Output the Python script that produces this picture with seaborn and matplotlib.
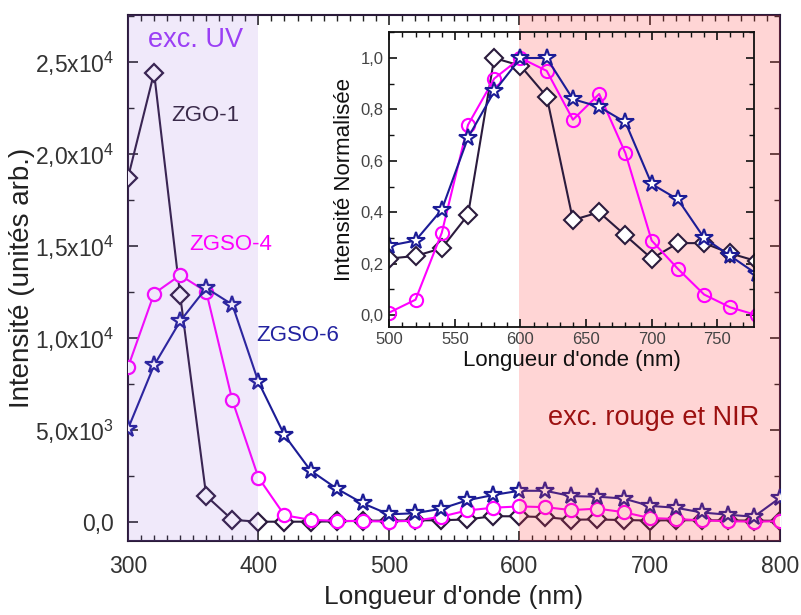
import numpy as np
import pandas as pd
import seaborn as sns
import matplotlib.pyplot as plt
from matplotlib.ticker import MultipleLocator, FixedLocator, FuncFormatter

# --- data ---
wl = list(range(300, 801, 20))
zgo1 = [18700, 24400, 12300, 1400, 100, 0, 0, 0, 20, 50, 65, 70, 80, 120, 300,
        290, 250, 110, 120, 90, 65, 80, 80, 70, 60, 50]
zgso4 = [8400, 12400, 13400, 12500, 6600, 2400, 350, 100, 50, 30, 10, 50, 270,
         610, 760, 830, 790, 630, 710, 520, 200, 150, 70, 30, 0, 30]
zgso6 = [5050, 8500, 10900, 12700, 11800, 7600, 4700, 2780, 1800, 1000, 400, 460,
         700, 1160, 1450, 1680, 1680, 1390, 1360, 1260, 860, 760, 500, 380, 270, 1300]

wl_ins = list(range(500, 781, 20))
zgo1_n = [0.22, 0.23, 0.26, 0.39, 1.0, 0.97, 0.85, 0.37, 0.40, 0.31, 0.22, 0.28, 0.28, 0.24, 0.21]
zgso4_n = [0.01, 0.06, 0.32, 0.74, 0.92, 1.0, 0.95, 0.76, 0.86, 0.63, 0.29, 0.18, 0.08, 0.03, 0.0]
zgso6_n = [0.27, 0.29, 0.41, 0.69, 0.87, 1.0, 1.0, 0.84, 0.81, 0.75, 0.51, 0.45, 0.30, 0.23, 0.16]

y_ticks = [0, 5000, 10000, 15000, 20000, 25000]
y_labels = ['0,0', r'5,0x10$^3$', r'1,0x10$^4$', r'1,5x10$^4$', r'2,0x10$^4$', r'2,5x10$^4$']

sns.set_style('ticks')
plt.rcParams['font.family'] = ['Liberation Sans', 'DejaVu Sans']
plt.rcParams['mathtext.fontset'] = 'custom'
plt.rcParams['mathtext.rm'] = 'Liberation Sans'

c_zgo = '#2b1b3d'
c_zgso4 = '#ff00ff'
c_zgso6 = '#1c1c96'

series = [
    ('ZGO-1', zgo1, zgo1_n, c_zgo, 'D', 9),
    ('ZGSO-4', zgso4, zgso4_n, c_zgso4, 'o', 9.5),
    ('ZGSO-6', zgso6, zgso6_n, c_zgso6, '*', 13),
]

fig = plt.figure(figsize=(8.01, 6.15), dpi=100)
ax = fig.add_axes([0.1598, 0.1203, 0.814, 0.8553])

for name, y, _, col, mk, ms in series:
    sns.lineplot(x=wl, y=y, ax=ax, color=col, marker=mk, markersize=ms,
                 markerfacecolor='white', markeredgecolor=col, markeredgewidth=1.6,
                 linewidth=1.5, estimator=None, zorder=3)

# excitation regions, drawn over the curves
ax.axvspan(300, 400, color=(150/255, 100/255, 220/255), alpha=0.14, lw=0, zorder=4)
ax.axvspan(600, 800, color=(1.0, 60/255, 60/255), alpha=0.21, lw=0, zorder=4)

ax.set_xlim(300, 800)
ax.set_ylim(-1050, 27540)
ax.xaxis.set_major_locator(MultipleLocator(100))
ax.xaxis.set_minor_locator(MultipleLocator(10))
ax.yaxis.set_major_locator(FixedLocator(y_ticks))
ax.yaxis.set_minor_locator(MultipleLocator(2500))
ax.set_yticklabels(y_labels)
ax.tick_params(which='both', direction='in', top=True, right=True, color='#222222',
               labelcolor='#333333')
ax.tick_params(which='major', length=7, width=1.2, labelsize=16.5, pad=10)
ax.tick_params(which='minor', length=4, width=1.0)
for s in ax.spines.values():
    s.set_color('#2a1a3a')
    s.set_linewidth(1.5)
ax.set_xlabel("Longueur d'onde (nm)", fontsize=19, labelpad=5, color='#222222')
ax.set_ylabel('Intensité (unités arb.)', fontsize=20, labelpad=0, color='#222222')

ax.text(315, 26200, 'exc. UV', color='#9b3ff5', fontsize=19.5, va='center', zorder=6)
ax.text(333, 22100, 'ZGO-1', color='#3a2a4a', fontsize=16, va='center', zorder=6)
ax.text(347, 15050, 'ZGSO-4', color=c_zgso4, fontsize=16, va='center', zorder=6)
ax.text(398, 10100, 'ZGSO-6', color='#2323a0', fontsize=16, va='center', zorder=6)
ax.text(622, 5650, 'exc. rouge et NIR', color='#9c1010', fontsize=19.5, va='center', zorder=6)

# inset: normalised spectra
axi = fig.add_axes([0.486, 0.4688, 0.4553, 0.4787])
axi.patch.set_alpha(0)
for name, _, yn, col, mk, ms in series:
    sns.lineplot(x=wl_ins, y=yn, ax=axi, color=col, marker=mk, markersize=ms,
                 markerfacecolor='white' if mk != 'o' else 'none', markeredgecolor=col,
                 markeredgewidth=1.5, linewidth=1.5, estimator=None)
axi.set_xlim(500, 778)
axi.set_ylim(-0.045, 1.1)
axi.xaxis.set_major_locator(MultipleLocator(50))
axi.xaxis.set_minor_locator(MultipleLocator(10))
axi.yaxis.set_major_locator(MultipleLocator(0.2))
axi.yaxis.set_minor_locator(MultipleLocator(0.1))
axi.yaxis.set_major_formatter(FuncFormatter(lambda v, p: f'{v:.1f}'.replace('.', ',')))
axi.tick_params(which='both', direction='in', top=True, right=True, color='#111111',
                labelcolor='#444444')
axi.tick_params(which='major', length=6, width=1.2, labelsize=12, pad=4)
axi.tick_params(which='minor', length=3.5, width=1.0)
for s in axi.spines.values():
    s.set_color('#111111')
    s.set_linewidth(1.3)
axi.set_xlabel("Longueur d'onde (nm)", fontsize=16, labelpad=2, color='#111111')
axi.set_ylabel('Intensité Normalisée', fontsize=16, labelpad=4, color='#111111')

fig.savefig('out.png', dpi=100)
